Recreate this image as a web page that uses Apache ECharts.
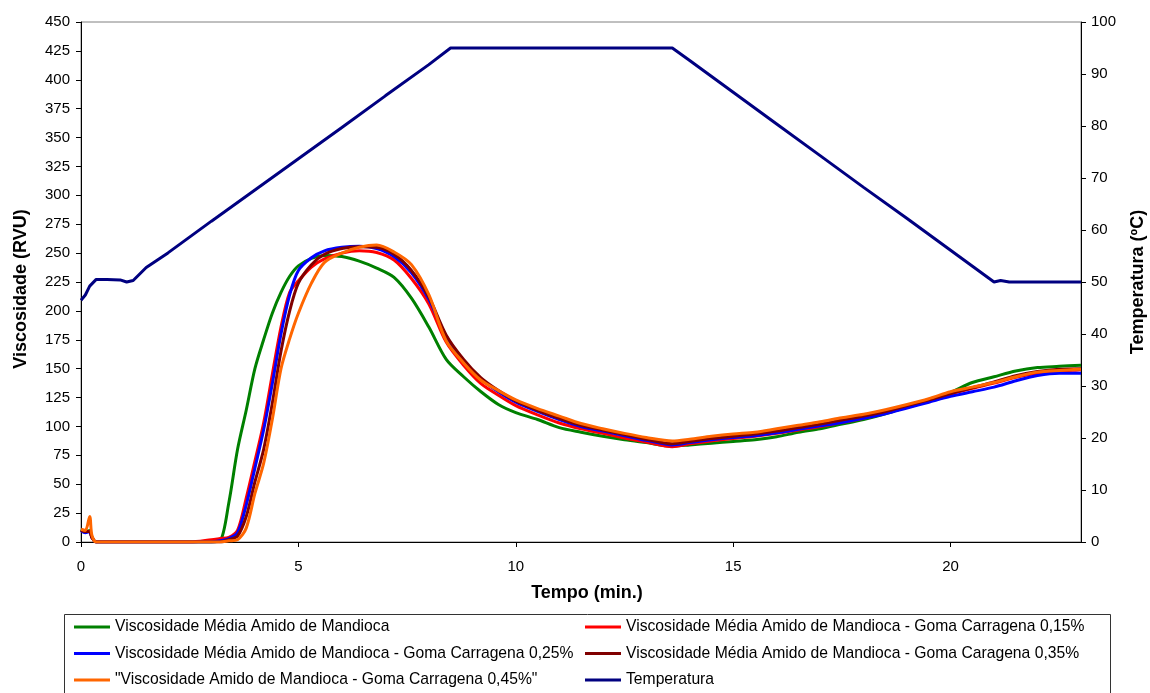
<!DOCTYPE html>
<html>
<head>
<meta charset="utf-8">
<script src="https://cdn.jsdelivr.net/npm/echarts@6/dist/echarts.min.js"></script>
<style>
html,body{margin:0;padding:0;background:#fff;}
#chart{width:1150px;height:693px;}
</style>
</head>
<body>
<div id="chart"></div>
<script>
// time grid (min) for viscosity curves
var tempo = [0, 0.1, 0.2, 0.25, 0.35, 0.5, 1, 1.5, 2, 2.5, 3, 3.2, 3.4, 3.6, 3.8, 4.0, 4.2, 4.4, 4.6, 4.8, 5.0, 5.3, 5.6, 6.0, 6.4, 6.8, 7.2, 7.6, 8.0, 8.4, 8.8, 9.2, 9.6, 10, 10.5, 11, 11.5, 12, 12.5, 13, 13.6, 14, 14.5, 15, 15.5, 16, 16.5, 17, 17.5, 18, 18.5, 19, 19.5, 20, 20.5, 21, 21.5, 22, 22.5, 23];

var viscMandioca = [11, 9, 10, 4, 0, 0, 0, 0, 0, 0, 0, 1, 34, 80, 114, 150, 175, 198, 216, 230, 239, 245.5, 248, 247, 243, 237, 229, 211, 186, 158, 143, 130, 119, 112, 106, 99, 95, 91.5, 88.5, 86, 83, 84, 85.5, 87, 88.5, 91, 95, 98, 102, 106, 111, 117, 123, 129.5, 138, 143, 148, 151, 152, 153];
var viscCarr015 = [10, 9, 9, 4, 0, 0, 0, 0, 0, 0, 2, 3, 4, 10, 38, 70, 103, 145, 186, 216, 226, 238, 245, 250, 252, 250.5, 244, 228, 206, 173, 153, 137, 127, 118, 110, 103, 98, 94, 90, 86.5, 82.5, 85, 87.5, 89.5, 91.5, 94, 97, 100, 103.5, 107, 111.5, 116.5, 122, 128, 133, 137.5, 142.5, 146, 148, 149];
var viscCarr025 = [10, 8, 9, 4, 0, 0, 0, 0, 0, 0, 0, 1, 3, 8, 32, 64, 97, 137, 180, 214, 235, 246, 252, 255, 256, 254, 247, 233, 210, 178, 157, 141, 130, 121, 113, 106, 100, 96, 92, 88, 84, 86, 88.5, 90.5, 92, 94.5, 97.5, 100.5, 103.5, 107, 111, 116, 121, 126, 130, 134, 139.5, 144, 146, 146];
var viscCarr035 = [10, 9, 9, 4, 0, 0, 0, 0, 0, 0, 0, 0, 2, 5, 22, 52, 80, 120, 165, 200, 224, 240, 249, 254, 255.5, 255, 249, 235, 212, 179, 158, 142, 131, 122, 114, 107, 101, 97, 93, 89, 85, 87, 89.5, 91.5, 93.5, 96, 99, 102, 105.5, 109, 113, 118, 123, 128.5, 133.5, 138.5, 144, 147.5, 149.5, 150];
var viscCarr045 = [11, 10, 22, 6, 0, 0, 0, 0, 0, 0, 0, 0, 1, 2, 12, 42, 68, 106, 150, 176, 198, 224, 242, 250, 255, 257, 251, 240, 214, 174, 155, 140, 131, 123, 115.5, 109, 102.5, 98, 94, 90.5, 87.5, 89, 91.5, 93.5, 95, 98, 101, 104, 107.5, 110.5, 114.5, 119, 124, 130, 134, 138, 143, 147, 148.5, 149.5];

// temperature profile
var tempoTemp = [0, 0.1, 0.2, 0.35, 0.6, 0.9, 1.05, 1.2, 1.5, 2, 3, 4, 5, 6, 7, 8, 8.5, 13.6, 14, 15, 16, 17, 18, 19, 20, 21, 21.15, 21.35, 23];
var temperatura = [46.5, 47.5, 49.2, 50.5, 50.5, 50.4, 50, 50.3, 52.8, 55.6, 61.7, 67.7, 73.7, 79.7, 85.8, 91.8, 95, 95, 92.6, 86.5, 80.4, 74.3, 68.2, 62.2, 56.1, 50, 50.3, 50, 50];

var names = [
  'Viscosidade Média Amido de Mandioca',
  'Viscosidade Média Amido de Mandioca - Goma Carragena 0,15%',
  'Viscosidade Média Amido de Mandioca - Goma Carragena 0,25%',
  'Viscosidade Média Amido de Mandioca - Goma Caragena 0,35%',
  '"Viscosidade Amido de Mandioca - Goma Carragena 0,45%"',
  'Temperatura'
];
var colors = ['#008000', '#FF0000', '#0000FF', '#800000', '#FF6600', '#000080'];

function pairs(xs, ys) { return xs.map(function (x, i) { return [x, ys[i]]; }); }

var FONT = '"Liberation Sans", Arial, sans-serif';
var viscData = [viscMandioca, viscCarr015, viscCarr025, viscCarr035, viscCarr045];

var series = viscData.map(function (d, i) {
  return {
    name: names[i], type: 'line', yAxisIndex: 0, data: pairs(tempo, d),
    showSymbol: false, smooth: 0.3, lineStyle: { width: 3, color: colors[i] },
    itemStyle: { color: colors[i] }, z: 2 + i
  };
});
series.push({
  name: names[5], type: 'line', yAxisIndex: 1, data: pairs(tempoTemp, temperatura),
  showSymbol: false, lineStyle: { width: 3, color: colors[5] }, itemStyle: { color: colors[5] }, z: 10
});

var legendCommon = {
  orient: 'vertical', top: 618, itemWidth: 36, itemHeight: 3, itemGap: 8.5, icon: 'rect',
  padding: 0, selectedMode: false,
  textStyle: { fontFamily: FONT, fontSize: 15.7, color: '#000', lineHeight: 18 }
};

var chart = echarts.init(document.getElementById('chart'));
chart.setOption({
  animation: false,
  backgroundColor: '#fff',
  color: colors,
  grid: { left: 81, right: 69, top: 22, bottom: 151, show: true, borderColor: '#808080', borderWidth: 1 },
  xAxis: {
    type: 'value', min: 0, max: 23, interval: 5,
    axisLine: { lineStyle: { color: '#000', width: 1 } },
    axisTick: { length: 5, lineStyle: { color: '#000' } },
    axisLabel: { margin: 17, fontFamily: FONT, fontSize: 15, color: '#000', showMaxLabel: false },
    splitLine: { show: false }
  },
  yAxis: [{
    type: 'value', min: 0, max: 450, interval: 25, position: 'left',
    axisLine: { show: true, lineStyle: { color: '#000', width: 1 } },
    axisTick: { show: true, length: 5, lineStyle: { color: '#000' } },
    axisLabel: { margin: 11, fontFamily: FONT, fontSize: 15, color: '#000' },
    splitLine: { show: false }
  }, {
    type: 'value', min: 0, max: 100, interval: 10, position: 'right',
    axisLine: { show: true, lineStyle: { color: '#000', width: 1 } },
    axisTick: { show: true, length: 5, lineStyle: { color: '#000' } },
    axisLabel: { margin: 10, fontFamily: FONT, fontSize: 15, color: '#000' },
    splitLine: { show: false }
  }],
  legend: [
    Object.assign({}, legendCommon, { left: 74, data: [names[0], names[2], names[4]] }),
    Object.assign({}, legendCommon, { left: 585, data: [names[1], names[3], names[5]] })
  ],
  graphic: [
    { type: 'rect', shape: { x: 64.5, y: 614.5, width: 1046, height: 100 }, style: { fill: 'none', stroke: '#333', lineWidth: 1 }, silent: true },
    { type: 'text', x: 21.5, y: 289, rotation: Math.PI / 2, style: { text: 'Viscosidade (RVU)', font: 'bold 18px ' + FONT, fill: '#000', textAlign: 'center', textVerticalAlign: 'middle' } },
    { type: 'text', x: 1138, y: 282, rotation: Math.PI / 2, style: { text: 'Temperatura (ºC)', font: 'bold 18px ' + FONT, fill: '#000', textAlign: 'center', textVerticalAlign: 'middle' } },
    { type: 'text', x: 587, y: 593, style: { text: 'Tempo (min.)', font: 'bold 18px ' + FONT, fill: '#000', textAlign: 'center', textVerticalAlign: 'middle' } }
  ],
  series: series
});
</script>
</body>
</html>
